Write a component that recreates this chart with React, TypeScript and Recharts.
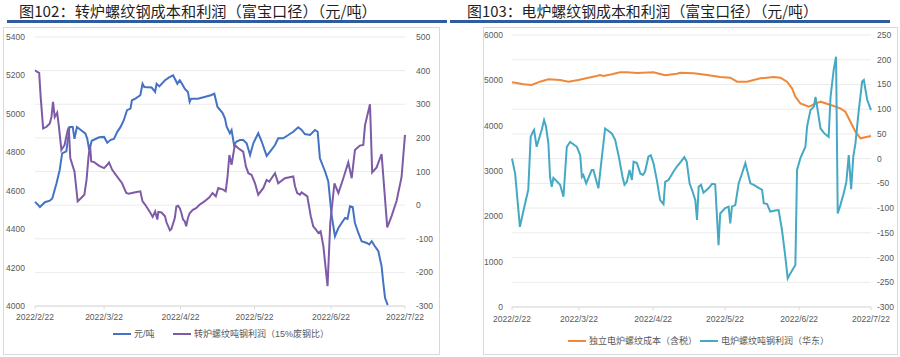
import React from 'react';
import { LineChart, Line, XAxis, YAxis, CartesianGrid } from 'recharts';

// x positions are days counted from 2022/2/22
const dateTicks = [0, 28, 59, 89, 120, 150];
const dateLabels = ['2022/2/22', '2022/3/22', '2022/4/22', '2022/5/22', '2022/6/22', '2022/7/22'];

// 图102 转炉
const bofCostDay = [0, 1, 2, 4, 6, 7, 8.7, 10, 11, 12.7, 14, 15.3, 16, 17, 18.7, 20.4, 21.2, 22, 23, 26, 28, 29.3, 30.7, 32, 33.3, 34.7, 36, 37.3, 38.7, 39.3, 40.7, 42.7, 43.6, 44.3, 47.3, 48.7, 49.3, 50.4, 52.7, 54.7, 56, 56.7, 57.7, 58.7, 59.6, 60.7, 62, 62.7, 63.3, 66, 68.7, 71.3, 72.7, 74, 76, 77, 77.7, 79, 79.7, 80.7, 81.7, 83.1, 84.4, 85.8, 87.2, 88.5, 90.5, 91.9, 93.9, 95.3, 97.3, 98.6, 100.6, 102.7, 104.7, 106.7, 108.1, 109.4, 111.5, 113.5, 114.6, 115.5, 117.6, 118.9, 120.3, 121.6, 123, 124.3, 125.7, 126.7, 127.7, 128.8, 129.7, 131.1, 132.4, 134.5, 135.5, 136.5, 137.8, 139.2, 140.5, 141.2, 141.9, 143];
const bofCost = [4542, 4530, 4515, 4540, 4548, 4560, 4638, 4707, 4794, 4805, 4932, 4932, 4870, 4932, 4915, 4898, 4870, 4810, 4860, 4878, 4880, 4850, 4865, 4870, 4905, 4932, 4967, 5019, 5027, 5071, 5079, 5097, 5157, 5140, 5137, 5114, 5157, 5143, 5175, 5192, 5200, 5183, 5157, 5175, 5157, 5131, 5114, 5062, 5079, 5079, 5088, 5097, 5105, 5036, 5005, 4977, 4933, 4899, 4916, 4838, 4856, 4864, 4864, 4847, 4786, 4847, 4899, 4856, 4781, 4804, 4838, 4873, 4873, 4890, 4907, 4930, 4916, 4895, 4890, 4916, 4907, 4769, 4700, 4648, 4467, 4363, 4406, 4432, 4458, 4453, 4519, 4515, 4432, 4380, 4337, 4328, 4320, 4337, 4311, 4285, 4207, 4121, 4043, 4005];

const bofProfitDay = [0, 0.9, 1.7, 2.3, 3.3, 4.7, 6, 6.7, 7.3, 8, 9, 9.7, 10.7, 12, 12.7, 13.3, 13.7, 14.3, 16, 17.3, 18.7, 20, 20.9, 21.7, 22.3, 22.8, 24, 26, 28, 29.3, 30, 31.3, 33.3, 35.3, 36.4, 37, 38, 39.3, 40.7, 42.7, 43.6, 44.7, 46.7, 47.7, 48.7, 49.6, 50, 51.3, 52.7, 53.3, 54.7, 55.3, 56.7, 57.3, 58, 58.7, 59.3, 60, 60.7, 61.3, 62, 62.7, 64, 65.3, 66.7, 68.7, 70.7, 72, 73.3, 74.3, 76.3, 77.3, 78, 78.8, 79.7, 81, 82.4, 84.4, 85.5, 86.5, 87.8, 89.2, 90.5, 92.6, 93.9, 95, 95.9, 97.3, 98.6, 101.3, 104.7, 105.4, 106.3, 107.4, 108.1, 110.4, 111.8, 112.8, 113.9, 114.9, 115.8, 116.9, 118.6, 119.7, 121.4, 123, 125, 127, 128.4, 129.7, 131.7, 133.1, 133.8, 135.8, 136.7, 138.5, 140.5, 142.8, 144.6, 146.6, 148.6, 150];
const bofProfit = [401, 396, 393, 322, 228, 233, 243, 263, 307, 262, 275, 233, 164, 179, 204, 223, 231, 140, 100, 11, 21, 31, 75, 144, 179, 130, 128, 117, 110, 120, 127, 105, 85, 65, 46, 36, 34, 36, 38, 41, 11, 1, -22, -35, -19, -43, -20, -22, -33, -51, -75, -71, -38, -4, -2, -9, -22, -43, -48, -63, -38, -24, -14, -9, 1, 11, 23, 36, 26, 51, 46, 41, 80, 149, 120, 179, 169, 159, 115, 95, 90, 65, 31, 51, 75, 70, 80, 95, 65, 80, 85, 56, 36, 31, 38, 26, -33, -63, -73, -83, -78, -122, -241, -53, 65, 36, 80, 127, 80, 164, 177, 179, 238, 300, 97, 112, 152, -66, -32, 13, 83, 209];

// 图103 电炉
const eafCostDay = [0, 2.6, 4.7, 8.2, 11.7, 15.2, 20.1, 23.6, 27.7, 31.9, 35.4, 36.8, 38.2, 41.7, 45.2, 48, 52.2, 59.1, 61.9, 64, 68.9, 70.3, 75.9, 81.5, 87, 91.2, 94, 98.2, 103.8, 109.3, 112.1, 114.9, 117, 118.4, 120.5, 124, 128.9, 134.4, 137.2, 139.3, 141.4, 143.5, 145.6, 150];
const eafCost = [4956, 4934, 4912, 4897, 4970, 5022, 5007, 4970, 5007, 5058, 5096, 5118, 5096, 5133, 5177, 5177, 5162, 5177, 5140, 5111, 5147, 5168, 5155, 5118, 5073, 5058, 4970, 4970, 5044, 5073, 5058, 4970, 4824, 4639, 4493, 4419, 4529, 4434, 4383, 4308, 4087, 3867, 3721, 3772];

const eafProfitDay = [0, 1.3, 3.3, 4.7, 6.8, 7.8, 8.7, 9.2, 10.3, 12.4, 13.4, 14.2, 15.2, 15.9, 16.6, 17.3, 20.1, 21.5, 22.9, 24.3, 27.1, 28.5, 29.2, 29.8, 31, 33.3, 34, 36.1, 37.5, 38.9, 41.7, 43.1, 44.5, 46.2, 47, 48, 49.1, 50.1, 50.8, 52.2, 53.6, 54.7, 55.6, 57, 58, 59.1, 60.5, 61.9, 63.3, 64, 65.4, 67.5, 68.9, 70.6, 72, 73, 74.2, 75.2, 76.6, 77.3, 78, 79, 80, 82.1, 83.6, 84.9, 86.3, 87, 89.1, 90.5, 91.2, 91.9, 93.3, 94.7, 96.1, 97.5, 99.6, 101, 104.5, 105.2, 106.6, 107.9, 110, 111.4, 112.8, 114.2, 115.2, 116.3, 118.4, 119.1, 120.5, 122.6, 123.3, 124.7, 126.1, 126.8, 127.5, 128.9, 130.5, 132.3, 133.1, 134.4, 135.4, 136.1, 137.2, 138.6, 139.7, 140.7, 141.7, 142.6, 143.5, 144.9, 146.3, 147, 148.4, 150];
const eafProfit = [0, -30, -138, -107, -63, 44, 54, 58, 24, 58, 78, 65, 31, -37, -57, -39, -53, -77, 24, 34, 24, 7, -37, -33, -50, -23, -23, -60, 1, 61, 51, 38, 7, -37, -53, -47, -23, -43, -6, -9, -30, -33, -26, 4, 7, -9, -43, -84, -92, -47, -43, -26, -16, -6, 3, -6, -50, -63, -84, -124, -57, -53, -69, -60, -51, -52, -175, -111, -100, -97, -131, -97, -94, -50, -30, -9, -50, -53, -63, -90, -92, -107, -105, -104, -144, -198, -242, -232, -215, -23, 1, 24, 65, 98, 105, 125, 105, 61, 51, 44, 125, 179, 206, -111, -94, -70, -47, 7, -62, 4, 31, 98, 156, 159, 119, 98];

const bofLeftTicks = [4000, 4200, 4400, 4600, 4800, 5000, 5200, 5400];
const bofRightTicks = [-300, -200, -100, 0, 100, 200, 300, 400, 500];
const eafLeftTicks = [0, 1000, 2000, 3000, 4000, 5000, 6000];
const eafRightTicks = [-300, -250, -200, -150, -100, -50, 0, 50, 100, 150, 200, 250];

const zip = (days: number[], vals: number[]) => days.map((d, i) => ({ d, v: vals[i] }));

const cjk = '"Noto Sans CJK SC", "Noto Sans", sans-serif';
const tickStyle = { fontSize: 8.5, fill: '#595959', fontFamily: '"Liberation Sans", Arial, sans-serif' };
const fmtDate = (d: number) => dateLabels[dateTicks.indexOf(d)] ?? '';

function LegendItem({ color, label, left, top }: { color: string; label: string; left: number; top: number }) {
  return (
    <div style={{ position: 'absolute', left, top, display: 'flex', alignItems: 'center', whiteSpace: 'nowrap' }}>
      <span style={{ display: 'inline-block', width: 18, height: 2, background: color, marginRight: 3 }} />
      <span style={{ fontSize: 9, color: '#595959', fontFamily: '"Liberation Sans", ' + cjk, lineHeight: '12px' }}>{label}</span>
    </div>
  );
}

export default function App() {
  return (
    <div style={{ position: 'absolute', left: 0, top: 0, width: 900, height: 357, background: '#fff', overflow: 'hidden' }}>
      {/* 图102 */}
      <div style={{ position: 'absolute', left: 19, top: 1, fontSize: 15.2, lineHeight: '18px', color: '#1f1f1f', fontFamily: cjk, whiteSpace: 'nowrap' }}>
        图102：转炉螺纹钢成本和利润（富宝口径）（元/吨）
      </div>
      <div style={{ position: 'absolute', left: 7, top: 20, width: 440, height: 2.5, background: '#2F5C9E' }} />
      <div style={{ position: 'absolute', left: 3, top: 27, width: 437, height: 328, border: '1px solid #d9d9d9', boxSizing: 'border-box' }} />
      <div style={{ position: 'absolute', left: 0, top: 0 }}>
        <LineChart width={450} height={357} margin={{ top: 37, right: 0, bottom: 21, left: 0 }}>
          <CartesianGrid yAxisId="right" vertical={false} stroke="#ebebeb" />
          <XAxis dataKey="d" type="number" domain={[0, 150]} ticks={dateTicks} tickFormatter={fmtDate}
            height={30} tick={tickStyle} tickSize={3} tickMargin={5} stroke="#d9d9d9" interval={0} />
          <YAxis yAxisId="left" domain={[4000, 5400]} ticks={bofLeftTicks} width={35} tick={tickStyle}
            axisLine={false} tickLine={false} tickSize={0} tickMargin={10} interval={0} />
          <YAxis yAxisId="right" orientation="right" domain={[-300, 500]} ticks={bofRightTicks} width={45} tick={tickStyle}
            axisLine={false} tickLine={false} tickSize={0} tickMargin={11} interval={0} />
          <Line yAxisId="left" data={zip(bofCostDay, bofCost)} dataKey="v" type="linear" stroke="#4472C4" strokeWidth={2}
            dot={false} isAnimationActive={false} />
          <Line yAxisId="right" data={zip(bofProfitDay, bofProfit)} dataKey="v" type="linear" stroke="#7E5BA6" strokeWidth={2}
            dot={false} isAnimationActive={false} />
        </LineChart>
      </div>
      <LegendItem color="#4472C4" label="元/吨" left={113} top={328} />
      <LegendItem color="#7E5BA6" label="转炉螺纹吨钢利润（15%废钢比）" left={173} top={328} />

      {/* 图103 */}
      <div style={{ position: 'absolute', left: 467, top: 2, fontSize: 14.9, lineHeight: '18px', color: '#1f1f1f', fontFamily: cjk, whiteSpace: 'nowrap' }}>
        图103：电炉螺纹钢成本和利润（富宝口径）（元/吨）
      </div>
      <div style={{ position: 'absolute', left: 450, top: 20, width: 440, height: 2.5, background: '#2F5C9E' }} />
      <div style={{ position: 'absolute', left: 483, top: 27, width: 415, height: 328, border: '1px solid #d9d9d9', boxSizing: 'border-box' }} />
      <div style={{ position: 'absolute', left: 450, top: 0 }}>
        <LineChart width={450} height={357} margin={{ top: 35, right: 0, bottom: 20, left: 0 }}>
          <CartesianGrid yAxisId="right" vertical={false} stroke="#ebebeb" />
          <XAxis dataKey="d" type="number" domain={[0, 150]} ticks={dateTicks} tickFormatter={fmtDate}
            height={30} tick={tickStyle} tickSize={3} tickMargin={6} stroke="#d9d9d9" interval={0} />
          <YAxis yAxisId="left" domain={[0, 6000]} ticks={eafLeftTicks} width={62} tick={tickStyle}
            axisLine={false} tickLine={false} tickSize={0} tickMargin={9} interval={0} />
          <YAxis yAxisId="right" orientation="right" domain={[-300, 250]} ticks={eafRightTicks} width={29} tick={tickStyle}
            axisLine={false} tickLine={false} tickSize={0} tickMargin={6} interval={0} />
          <Line yAxisId="left" data={zip(eafCostDay, eafCost)} dataKey="v" type="linear" stroke="#F0883A" strokeWidth={2}
            dot={false} isAnimationActive={false} />
          <Line yAxisId="right" data={zip(eafProfitDay, eafProfit)} dataKey="v" type="linear" stroke="#45A9C4" strokeWidth={2}
            dot={false} isAnimationActive={false} />
        </LineChart>
      </div>
      <LegendItem color="#F0883A" label="独立电炉螺纹成本（含税）" left={568} top={335} />
      <LegendItem color="#45A9C4" label="电炉螺纹吨钢利润（华东）" left={700} top={335} />
    </div>
  );
}
